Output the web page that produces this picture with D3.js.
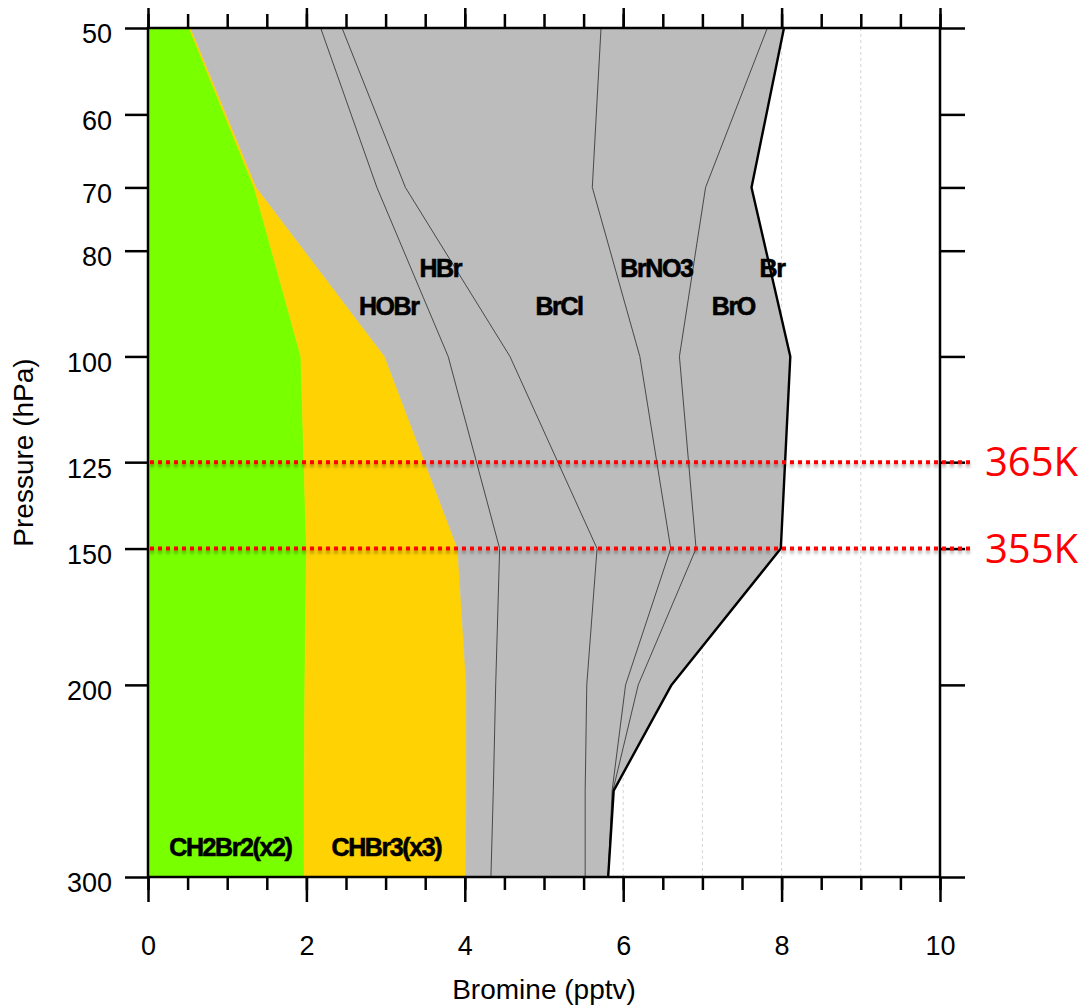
<!DOCTYPE html>
<html>
<head>
<meta charset="utf-8">
<script src="https://cdn.jsdelivr.net/npm/d3@7"></script>
<style>
  html, body { margin: 0; padding: 0; background: #fff; }
  svg { display: block; }
</style>
</head>
<body>
<svg id="chart" width="1084" height="1005"></svg>
<script>
// Pressure levels (hPa) of the bromine budget profile
const levels = [50, 70, 100, 150, 200, 250, 300];

// Bromine (pptv) carried by each species at those levels
const ch2br2x2 = [0.52, 1.34, 1.93, 2.00, 1.98, 1.97, 1.97];
const chbr3x3  = [0.02, 0.03, 1.06, 1.91, 2.04, 2.05, 2.04];
const hobr     = [1.64, 1.52, 0.80, 0.53, 0.37, 0.34, 0.32];
const hbr      = [0.27, 0.36, 0.78, 1.23, 1.15, 1.16, 1.19];
const brcl     = [3.27, 2.36, 1.64, 0.93, 0.49, 0.34, 0.29];
const brno3    = [2.10, 1.43, 0.50, 0.32, 0.16, 0.01, 0.00];
const bro      = [0.21, 0.58, 1.40, 1.07, 0.42, 0.01, 0.00];

const speciesKeys   = ["CH2Br2(x2)", "CHBr3(x3)", "HOBr", "HBr", "BrCl", "BrNO3", "BrO"];
const speciesValues = [ch2br2x2, chbr3x3, hobr, hbr, brcl, brno3, bro];
const speciesFill   = ["#78ff00", "#ffd203", "#bcbcbc", "#bcbcbc", "#bcbcbc", "#bcbcbc", "#bcbcbc"];

// Species labels: name, bromine (pptv), pressure (hPa)
const labelNames    = ["CH2Br2(x2)", "CHBr3(x3)", "HOBr", "HBr", "BrCl", "BrNO3", "BrO", "Br"];
const labelBromine  = [1.04, 3.01, 3.04, 3.69, 5.19, 6.42, 7.39, 7.88];
const labelPressure = [282, 282, 90, 83, 90, 83, 90, 83];

// Axis ticks
const pressureTicks = [50, 60, 70, 80, 100, 125, 150, 200, 300];
const bromineMajor  = [0, 2, 4, 6, 8, 10];
const bromineMinor  = d3.range(0, 10.001, 0.5);
const gridValues    = [1, 2, 3, 4, 5, 6, 7, 8, 9];

// Isentropic levels marked across the plot
const isentropePressure = [125, 150];
const isentropeLabels   = ["365K", "355K"];

const svg = d3.select("#chart");
const plotL = 148, plotR = 940, plotT = 28, plotB = 877;

const x = d3.scaleLinear().domain([0, 10]).range([plotL, plotR]);
const y = d3.scaleLog().domain([50, 300]).range([plotT, plotB]);

// shadow for the isentrope lines
const defs = svg.append("defs");
const f = defs.append("filter").attr("id", "soft")
  .attr("filterUnits", "userSpaceOnUse")
  .attr("x", 0).attr("y", 0).attr("width", 1084).attr("height", 1005);
f.append("feDropShadow").attr("dx", 0).attr("dy", 3).attr("stdDeviation", 1.6)
  .attr("flood-color", "#000").attr("flood-opacity", 0.3);
defs.append("clipPath").attr("id", "plotclip").append("rect")
  .attr("x", plotL).attr("y", plotT).attr("width", plotR - plotL).attr("height", plotB - plotT);

// light vertical grid
svg.append("g").selectAll("line").data(gridValues).join("line")
  .attr("x1", d => x(d)).attr("x2", d => x(d))
  .attr("y1", plotT).attr("y2", plotB)
  .attr("stroke", "#d4d4d4").attr("stroke-width", 1).attr("stroke-dasharray", "3,3");

// stacked profile
const rows = levels.map((p, i) => {
  const r = { p };
  speciesKeys.forEach((k, j) => { r[k] = speciesValues[j][i]; });
  return r;
});
const series = d3.stack().keys(speciesKeys)(rows);

const area = d3.area()
  .y(d => y(d.data.p))
  .x0(d => x(d[0]))
  .x1(d => x(d[1]));

const plot = svg.append("g").attr("clip-path", "url(#plotclip)");
plot.selectAll("path.layer").data(series).join("path")
  .attr("class", "layer")
  .attr("d", area)
  .attr("fill", (d, i) => speciesFill[i])
  .attr("stroke", (d, i) => speciesFill[i])
  .attr("stroke-width", 0.6);

const edge = d3.line().y(d => y(d.data.p)).x(d => x(d[1]));

// thin boundaries between the inorganic species
plot.selectAll("path.edge").data(series.slice(2, 6)).join("path")
  .attr("class", "edge")
  .attr("d", edge)
  .attr("fill", "none")
  .attr("stroke", "#3a3a3a")
  .attr("stroke-width", 0.9);

// total bromine outline
svg.append("path").datum(series[series.length - 1])
  .attr("d", edge)
  .attr("fill", "none")
  .attr("stroke", "#000")
  .attr("stroke-width", 2.4)
  .attr("stroke-linejoin", "round");

// species labels
svg.append("g").selectAll("text").data(labelNames).join("text")
  .attr("x", (d, i) => x(labelBromine[i]))
  .attr("y", (d, i) => y(labelPressure[i]))
  .attr("dy", "0.35em")
  .attr("text-anchor", "middle")
  .attr("font-family", "'Liberation Sans', Arial, sans-serif")
  .attr("font-weight", "bold")
  .attr("font-size", 25)
  .attr("letter-spacing", "-1.4px")
  .attr("fill", "#000")
  .attr("stroke", "#000")
  .attr("stroke-width", 0.6)
  .text(d => d);

// axes
const axisFont = "'Liberation Sans', Arial, Helvetica, sans-serif";
function styleAxis(g) {
  g.select(".domain").remove();
  g.selectAll("line").attr("stroke", "#000").attr("stroke-width", 2.5);
  g.selectAll("text").attr("font-family", axisFont).attr("font-size", 27).attr("fill", "#000");
}

svg.append("g").attr("transform", `translate(0,${plotB})`)
  .call(d3.axisBottom(x).tickValues(bromineMinor).tickSize(13).tickFormat(""))
  .call(styleAxis);
svg.append("g").attr("transform", `translate(0,${plotB})`)
  .call(d3.axisBottom(x).tickValues(bromineMajor).tickSize(25).tickPadding(34).tickFormat(d3.format("d")))
  .call(styleAxis);
svg.append("g").attr("transform", `translate(0,${plotT})`)
  .call(d3.axisTop(x).tickValues(bromineMinor).tickSize(14).tickFormat(""))
  .call(styleAxis);
svg.append("g").attr("transform", `translate(0,${plotT})`)
  .call(d3.axisTop(x).tickValues(bromineMajor).tickSize(20).tickFormat(""))
  .call(styleAxis);
svg.append("g").attr("transform", `translate(${plotL},0)`)
  .call(d3.axisLeft(y).tickValues(pressureTicks).tickSize(23).tickPadding(13).tickFormat(d3.format("d")))
  .call(styleAxis)
  .selectAll("text").attr("dy", "0.55em");
svg.append("g").attr("transform", `translate(${plotR},0)`)
  .call(d3.axisRight(y).tickValues(pressureTicks).tickSize(25).tickFormat(""))
  .call(styleAxis);

// frame
svg.append("rect")
  .attr("x", plotL).attr("y", plotT).attr("width", plotR - plotL).attr("height", plotB - plotT)
  .attr("fill", "none").attr("stroke", "#000").attr("stroke-width", 2.5);

// axis titles
svg.append("text")
  .attr("x", x(5)).attr("y", 999)
  .attr("text-anchor", "middle")
  .attr("font-family", axisFont).attr("font-size", 28)
  .text("Bromine (pptv)");
svg.append("text")
  .attr("transform", `translate(33,${(plotT + plotB) / 2}) rotate(-90)`)
  .attr("text-anchor", "middle")
  .attr("font-family", axisFont).attr("font-size", 28)
  .text("Pressure (hPa)");

// isentropes
const iso = svg.append("g");
iso.selectAll("line").data(isentropePressure).join("line")
  .attr("x1", plotL + 2).attr("x2", plotR + 32)
  .attr("y1", d => y(d)).attr("y2", d => y(d))
  .attr("stroke", "#ff0000").attr("stroke-width", 4)
  .attr("stroke-dasharray", "4,4")
  .attr("filter", "url(#soft)");
iso.selectAll("text").data(isentropePressure).join("text")
  .attr("x", plotR + 45)
  .attr("y", d => y(d) + 14)
  .attr("font-family", "'Open Sans', 'Liberation Sans', sans-serif")
  .attr("font-size", 40)
  .attr("fill", "#ff0000")
  .text((d, i) => isentropeLabels[i]);
</script>
</body>
</html>
